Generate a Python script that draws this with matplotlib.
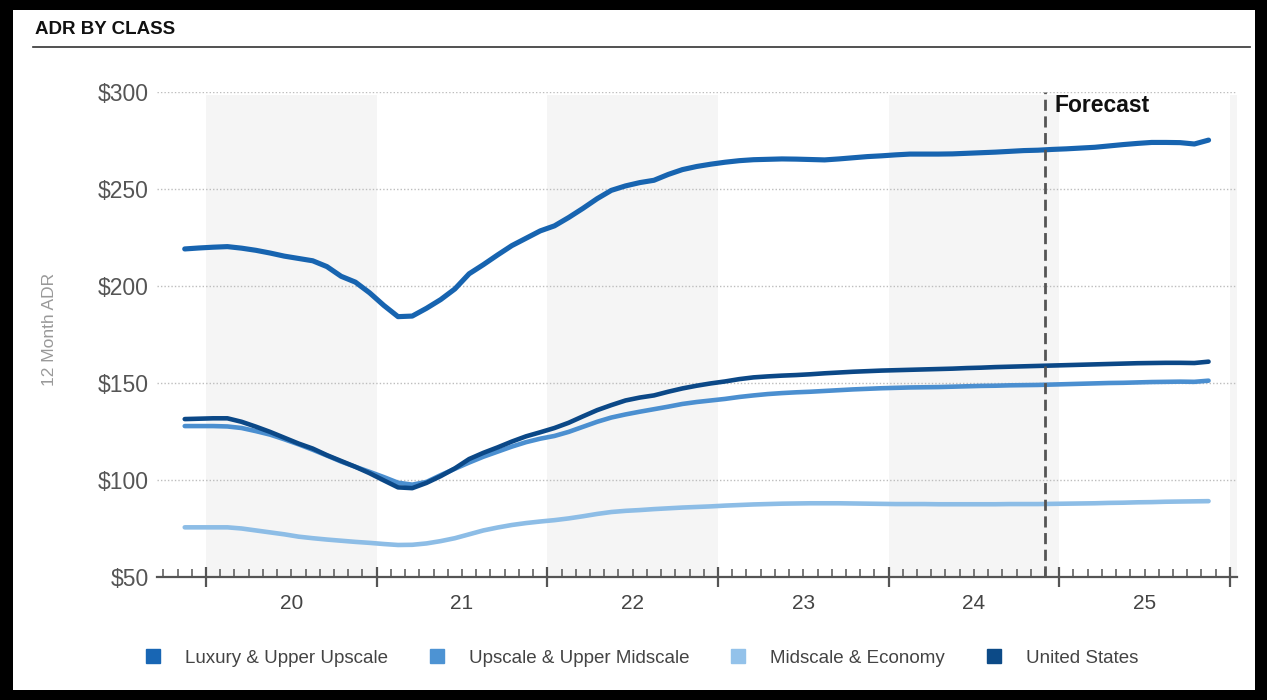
import numpy as np
import matplotlib
matplotlib.use('agg')
from matplotlib import pyplot as plt
from matplotlib.lines import Line2D
from matplotlib.patches import Rectangle

plt.rcParams['font.family'] = ['Liberation Sans', 'DejaVu Sans']

# months counted from Jan 2020 (0 = start of Jan 2020); points sit mid-month, Nov 2019 .. Nov 2025
months = np.arange(-2, 71) + 0.5

luxury = [219.1, 219.6, 220.0, 220.3, 219.5, 218.4, 217.0, 215.4, 214.2, 213.0,
          210.0, 205.0, 202.0, 196.5, 190.0, 184.2, 184.5, 188.5, 193.0, 198.5,
          206.3, 211.0, 216.0, 220.8, 224.6, 228.4, 231.0, 235.3, 240.0, 245.0,
          249.3, 251.6, 253.3, 254.5, 257.5, 260.0, 261.6, 262.8, 263.8, 264.6,
          265.1, 265.3, 265.5, 265.4, 265.2, 265.0, 265.5, 266.1, 266.7, 267.1,
          267.6, 268.0, 268.0, 268.0, 268.1, 268.4, 268.7, 269.0, 269.4, 269.8,
          270.0, 270.4, 270.7, 271.1, 271.5, 272.2, 272.9, 273.5, 274.0, 274.0,
          273.9, 273.2, 275.2]

upscale = [127.8, 127.8, 127.8, 127.6, 126.8, 125.2, 123.4, 121.0, 118.4, 115.6,
           112.6, 109.5, 106.8, 104.2, 101.5, 98.6, 97.6, 99.0, 102.5, 105.8,
           109.0, 112.0, 114.6, 117.2, 119.5, 121.3, 122.7, 124.8, 127.4, 130.0,
           132.2, 133.8, 135.2, 136.5, 137.8, 139.2, 140.2, 141.0, 141.8, 142.8,
           143.6, 144.3, 144.8, 145.2, 145.5, 145.9, 146.3, 146.7, 147.0, 147.3,
           147.5, 147.7, 147.8, 147.9, 148.1, 148.3, 148.5, 148.6, 148.8, 148.9,
           149.0, 149.2, 149.4, 149.6, 149.8, 150.0, 150.1, 150.3, 150.5, 150.6,
           150.7, 150.6, 151.2]

midscale = [75.6, 75.6, 75.6, 75.6, 75.0, 74.0, 73.0, 72.0, 70.8, 70.0,
            69.3, 68.7, 68.1, 67.6, 67.0, 66.5, 66.6, 67.3, 68.5, 70.0,
            72.0, 74.0, 75.5, 76.8, 77.8, 78.6, 79.3, 80.2, 81.3, 82.5,
            83.5, 84.1, 84.5, 85.0, 85.4, 85.8, 86.1, 86.4, 86.8, 87.1,
            87.4, 87.6, 87.8, 87.9, 88.0, 88.0, 88.0, 87.9, 87.8, 87.7,
            87.6, 87.6, 87.6, 87.5, 87.5, 87.5, 87.5, 87.5, 87.6, 87.6,
            87.6, 87.7, 87.8, 87.9, 88.0, 88.2, 88.3, 88.5, 88.6, 88.8,
            88.9, 89.0, 89.1]

united_states = [131.4, 131.6, 131.8, 131.8, 130.0, 127.5, 124.8, 121.8, 118.8, 116.2,
                 112.8, 109.8, 106.8, 103.5, 99.8, 96.2, 95.8, 98.5, 102.0, 106.0,
                 110.8, 114.0, 116.8, 119.8, 122.5, 124.6, 126.8, 129.5, 132.8, 136.0,
                 138.6, 141.0, 142.5, 143.6, 145.5, 147.2, 148.6, 149.8, 150.8, 152.0,
                 152.9, 153.4, 153.8, 154.1, 154.5, 155.0, 155.4, 155.8, 156.1, 156.4,
                 156.6, 156.8, 157.0, 157.2, 157.4, 157.7, 157.9, 158.2, 158.4, 158.6,
                 158.8, 159.0, 159.2, 159.4, 159.6, 159.8, 160.0, 160.2, 160.3, 160.4,
                 160.4, 160.3, 161.0]

series_names = ['Luxury & Upper Upscale', 'Upscale & Upper Midscale',
                'Midscale & Economy', 'United States']
year_labels = ['20', '21', '22', '23', '24', '25']
y_ticks = [50, 100, 150, 200, 250, 300]
forecast_start = 59

c_lux = '#1764b0'
c_up = '#4b8fd0'
c_mid = '#8dbde6'
c_us = '#0b4887'
grey = '#555555'

W, H = 1267, 700
fig = plt.figure(figsize=(W / 100, H / 100), dpi=100)
fig.patch.set_facecolor('white')

ax = fig.add_axes([157 / W, 1 - 577 / H, (1237 - 157) / W, (577 - 92) / H])
ax.set_xlim(-3.45, 72.5)
ax.set_ylim(50, 300)

# alternating year shading
for start in range(0, 73, 24):
    ax.axvspan(start, start + 12, ymax=0.993, color='#f5f5f5', lw=0, zorder=0)

ax.grid(axis='y', linestyle=(0, (1, 1.5)), color='#bdbdbd', lw=1, zorder=1)
ax.set_axisbelow(True)

ax.plot(months, midscale, color=c_mid, lw=3.3, solid_capstyle='round', zorder=3)
ax.plot(months, upscale, color=c_up, lw=3.3, solid_capstyle='round', zorder=3)
ax.plot(months, united_states, color=c_us, lw=3.3, solid_capstyle='round', zorder=4)
ax.plot(months, luxury, color=c_lux, lw=3.7, solid_capstyle='round', zorder=4)

ax.axvline(forecast_start, color=grey, lw=2, dashes=(4, 2), zorder=5)
ax.text(forecast_start + 0.7, 293, 'Forecast', fontsize=16.5, fontweight='bold',
        va='center', ha='left', color='#111111')

for s in ['left', 'right', 'top']:
    ax.spines[s].set_visible(False)
ax.spines['bottom'].set_color(grey)
ax.spines['bottom'].set_linewidth(1.6)
ax.spines['bottom'].set_zorder(6)

ax.set_xticks(range(0, 73, 12))
ax.set_xticks([m for m in range(-3, 73) if m % 12 != 0], minor=True)
ax.tick_params(axis='x', which='major', direction='inout', length=14, width=1.6,
               color=grey, labelbottom=False)
ax.tick_params(axis='x', which='minor', direction='in', length=6, width=1.1, color=grey)
for i, lab in enumerate(year_labels):
    ax.text(6 + 12 * i, -0.054, lab, transform=ax.get_xaxis_transform(),
            ha='center', va='center', fontsize=15, color='#444444')

ax.set_yticks(y_ticks)
ax.set_yticklabels(['$%d' % v for v in y_ticks])
ax.tick_params(axis='y', length=0, pad=6, labelsize=16.5, labelcolor=grey)

fig.text(49 / W, 1 - 329 / H, '12 Month ADR', rotation=90, ha='center', va='center',
         fontsize=12.5, color='#999999')

fig.text(35 / W, 1 - 30 / H, 'ADR BY CLASS', fontsize=13.5, fontweight='bold',
         ha='left', va='center', color='#111111')
fig.add_artist(Line2D([33 / W, 1250 / W], [1 - 46.5 / H] * 2, color='#333333', lw=1.2))

handles = [Line2D([], [], marker='s', ls='none', color=c, markersize=10)
           for c in ['#1866b4', '#4d93d3', '#93c2ea', '#0c4a87']]
leg = fig.legend(handles, series_names, loc='center', bbox_to_anchor=(641 / W, 1 - 658 / H),
                 ncol=4, frameon=False, fontsize=13.5, handlelength=1.0,
                 handletextpad=1.2, columnspacing=2.1)
for t in leg.get_texts():
    t.set_color('#444444')

# thick black frame around the picture
for x0, y0, w, h in [(0, 0, 13, H), (0, 0, W, 10), (W - 12, 0, 12, H), (0, H - 10, W, 10)]:
    fig.add_artist(Rectangle((x0 / W, 1 - (y0 + h) / H), w / W, h / H,
                             transform=fig.transFigure, color='black', lw=0))

fig.savefig('out.png', dpi=100)
